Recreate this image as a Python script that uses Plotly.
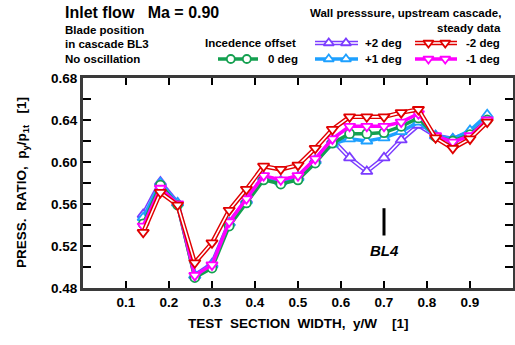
import plotly.graph_objects as go

# ---------------- data ----------------
y_w = [0.14, 0.18, 0.22, 0.26, 0.30, 0.34, 0.38, 0.42, 0.46, 0.50, 0.54,
       0.58, 0.62, 0.66, 0.70, 0.74, 0.78, 0.82, 0.86, 0.90, 0.94]

p_plus2 = [0.550, 0.581, 0.561, 0.492, 0.503, 0.542, 0.564, 0.586, 0.582, 0.586, 0.602,
           0.621, 0.604, 0.591, 0.604, 0.621, 0.635, 0.625, 0.622, 0.628, 0.643]
p_plus1 = [0.547, 0.580, 0.561, 0.492, 0.502, 0.542, 0.563, 0.585, 0.581, 0.585, 0.601,
           0.617, 0.622, 0.620, 0.623, 0.629, 0.638, 0.625, 0.622, 0.630, 0.645]
p_zero = [0.541, 0.578, 0.559, 0.490, 0.499, 0.539, 0.561, 0.583, 0.579, 0.583, 0.599,
          0.618, 0.627, 0.627, 0.628, 0.634, 0.642, 0.624, 0.620, 0.626, 0.640]
p_minus1 = [0.539, 0.575, 0.560, 0.492, 0.502, 0.543, 0.565, 0.587, 0.583, 0.587, 0.603,
            0.622, 0.634, 0.634, 0.634, 0.638, 0.646, 0.625, 0.619, 0.625, 0.640]
p_minus2 = [0.533, 0.571, 0.559, 0.504, 0.523, 0.554, 0.574, 0.596, 0.593, 0.597, 0.613,
            0.631, 0.643, 0.643, 0.643, 0.647, 0.650, 0.623, 0.613, 0.622, 0.638]

x_ticks = [0.1, 0.2, 0.3, 0.4, 0.5, 0.6, 0.7, 0.8, 0.9, 1.0]
x_ticklabels = ["0.1", "0.2", "0.3", "0.4", "0.5", "0.6", "0.7", "0.8", "0.9", "1"]
y_ticks = [0.48, 0.52, 0.56, 0.60, 0.64, 0.68]
y_ticklabels = ["0.48", "0.52", "0.56", "0.60", "0.64", "0.68"]

bl4_x = 0.70
bl4_bar = [0.530, 0.556]
bl4_label_y = 0.516

# series: name, values, color, marker symbol, double-line?
series = [
    ("+2 deg", p_plus2, "#7b3cff", "triangle-up", True),
    ("+1 deg", p_plus1, "#1ea0ff", "triangle-up", False),
    ("0 deg", p_zero, "#14a050", "circle", False),
    ("-1 deg", p_minus1, "#ff00ff", "triangle-down", False),
    ("-2 deg", p_minus2, "#e00000", "triangle-down", True),
]

W, H = 515, 345
L, R, T, B = 83, 513, 78, 288   # plot area in pixels

FONT = "Liberation Sans, Arial, sans-serif"

fig = go.Figure()

def add_lines(xs, ys, color, double, xa="x", ya="y"):
    if double:
        fig.add_trace(go.Scatter(x=xs, y=ys, mode="lines", xaxis=xa, yaxis=ya,
                                 line=dict(color=color, width=4.5), hoverinfo="skip"))
        fig.add_trace(go.Scatter(x=xs, y=ys, mode="lines", xaxis=xa, yaxis=ya,
                                 line=dict(color="white", width=1.6), hoverinfo="skip"))
    else:
        fig.add_trace(go.Scatter(x=xs, y=ys, mode="lines", xaxis=xa, yaxis=ya,
                                 line=dict(color=color, width=3.5), hoverinfo="skip"))

def add_markers(xs, ys, color, symbol, xa="x", ya="y", msize=10):
    fig.add_trace(go.Scatter(x=xs, y=ys, mode="markers", xaxis=xa, yaxis=ya,
                             marker=dict(symbol=symbol, size=msize if symbol != "circle" else msize - 1,
                                         color="white", line=dict(color=color, width=1.8)),
                             hoverinfo="skip"))

for name, vals, color, sym, dbl in series:
    add_lines(y_w, vals, color, dbl)
    add_markers(y_w, vals, color, sym)

# BL4 marker bar
fig.add_trace(go.Scatter(x=[bl4_x, bl4_x], y=bl4_bar, mode="lines",
                         line=dict(color="black", width=3), hoverinfo="skip"))

# ---------------- legend drawn in pixel space (overlay axes) ----------------
legend_items = {
    "+2 deg": (315, 358, 43),
    "-2 deg": (415, 457, 43),
    "0 deg": (218, 258, 59),
    "+1 deg": (315, 358, 59),
    "-1 deg": (415, 457, 59),
}
for name, vals, color, sym, dbl in series:
    x0, x1, yy = legend_items[name]
    add_lines([x0, x1], [yy, yy], color, dbl, xa="x2", ya="y2")
    add_markers([x0 + (x1 - x0) * 0.32, x0 + (x1 - x0) * 0.72], [yy, yy], color, sym,
                xa="x2", ya="y2", msize=9)

# ---------------- text ----------------
def px(x):
    return x / W

def py(y):
    return 1 - y / H

anns = []
def txt(x, y, s, size, xanchor="left"):
    anns.append(dict(x=px(x), y=py(y), xref="paper", yref="paper", text="<b>" + s + "</b>",
                     showarrow=False, xanchor=xanchor, yanchor="middle",
                     font=dict(family=FONT, size=size, color="black")))

txt(63, 12, "Inlet flow&nbsp;&nbsp;&nbsp;Ma = 0.90", 16)
txt(63, 30, "Blade position", 11.5)
txt(63, 44, "in cascade BL3", 11.5)
txt(63, 59, "No oscillation", 11.5)
txt(503, 13, "Wall presssure, upstream cascade,", 11.5, xanchor="right")
txt(503, 28, "steady data", 11.5, xanchor="right")
txt(298, 43, "Incedence offset", 11.5, xanchor="right")
txt(363, 43, "+2 deg", 11.5)
txt(464, 43, "-2 deg", 11.5)
txt(266, 59, "0 deg", 11.5)
txt(363, 59, "+1 deg", 11.5)
txt(464, 59, "-1 deg", 11.5)

# BL4 label in data coordinates
anns.append(dict(x=bl4_x, y=bl4_label_y, xref="x", yref="y", text="<b><i>BL4</i></b>",
                 showarrow=False, xanchor="center", yanchor="middle",
                 font=dict(family=FONT, size=15, color="black")))

# axis titles
txt(298, 323, "TEST&nbsp;&nbsp;SECTION&nbsp;&nbsp;WIDTH,&nbsp;&nbsp;y/W&nbsp;&nbsp;&nbsp;&nbsp;[1]", 13.5, xanchor="center")
anns.append(dict(x=px(22), y=py(183), xref="paper", yref="paper",
                 text="<b>PRESS.&nbsp;&nbsp;RATIO,&nbsp;&nbsp;p<sub>y</sub>/p<sub>1t</sub>&nbsp;&nbsp;&nbsp;[1]</b>",
                 showarrow=False, textangle=-90, xanchor="center", yanchor="middle",
                 font=dict(family=FONT, size=13.5, color="black")))

axis_col = "#3a3a3a"
fig.update_layout(
    width=W, height=H,
    margin=dict(l=0, r=0, t=0, b=0),
    paper_bgcolor="white", plot_bgcolor="rgba(0,0,0,0)",
    showlegend=False,
    annotations=anns,
    xaxis=dict(domain=[L / W, R / W], range=[0, 1], tickvals=x_ticks, ticktext=x_ticklabels,
               ticks="inside", ticklen=7, tickwidth=2, tickcolor="black",
               showline=True, linewidth=3, linecolor=axis_col, mirror="ticks",
               showgrid=False, zeroline=False, automargin=False,
               tickfont=dict(family=FONT, size=13.5, color="black", weight="bold")),
    yaxis=dict(domain=[1 - B / H, 1 - T / H], range=[0.48, 0.68], tickvals=y_ticks,
               ticktext=y_ticklabels,
               ticks="inside", ticklen=8, tickwidth=2, tickcolor="black",
               minor=dict(dtick=0.02, tick0=0.48, ticks="inside", ticklen=8, tickwidth=2,
                          tickcolor="black", showgrid=False),
               showline=True, linewidth=3, linecolor=axis_col, mirror="ticks",
               showgrid=False, zeroline=False, automargin=False,
               tickfont=dict(family=FONT, size=13.5, color="black", weight="bold")),
    xaxis2=dict(domain=[0, 1], range=[0, W], visible=False, anchor="y2"),
    yaxis2=dict(domain=[0, 1], range=[H, 0], visible=False, anchor="x2"),
)

fig.write_html("out.html")
